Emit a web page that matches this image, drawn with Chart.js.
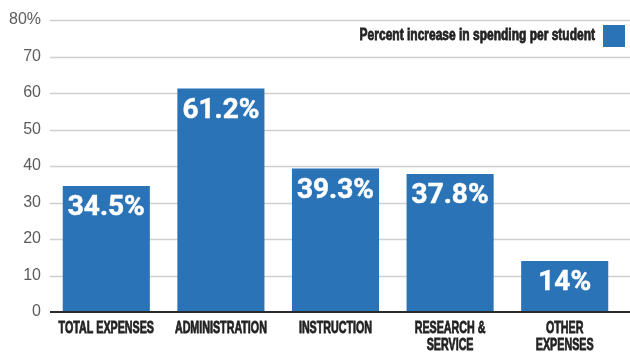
<!DOCTYPE html>
<html>
<head>
<meta charset="utf-8">
<script src="https://cdn.jsdelivr.net/npm/chart.js@4.4.1/dist/chart.umd.min.js"></script>
<style>
  html, body { margin: 0; padding: 0; background: #fff; }
  #wrap { width: 630px; height: 354px; }
</style>
</head>
<body>
<div id="wrap"><canvas id="spendChart" width="630" height="354"></canvas></div>
<script>
// categories, values and tick labels
const categories = [['TOTAL EXPENSES'], ['ADMINISTRATION'], ['INSTRUCTION'], ['RESEARCH &', 'SERVICE'], ['OTHER', 'EXPENSES']];
const increase = [34.5, 61.2, 39.3, 37.8, 14];
const valueLabels = ['34.5%', '61.2%', '39.3%', '37.8%', '14%'];
const yTicks = [0, 10, 20, 30, 40, 50, 60, 70, 80];
const seriesName = 'Percent increase in spending per student';

const barBlue = '#2a73b7';

// draw condensed, slightly heavier text
function squeezeText(ctx, text, x, y, sx) {
    ctx.save();
    ctx.translate(x, y);
    ctx.scale(sx, 1);
    ctx.strokeText(text, 0, 0);
    ctx.fillText(text, 0, 0);
    ctx.restore();
}

// grid lines + zero line drawn full width
const gridPlugin = {
    id: 'grid',
    beforeDatasetsDraw(chart) {
        const ctx = chart.ctx;
        const y = chart.scales.y;
        ctx.save();
        ctx.strokeStyle = '#cfcfcf';
        ctx.lineWidth = 1.5;
        yTicks.forEach(v => {
            if (v === 0) return;
            const py = Math.round(y.getPixelForValue(v)) + 0.5;
            ctx.beginPath();
            ctx.moveTo(50, py);
            ctx.lineTo(chart.width, py);
            ctx.stroke();
        });
        ctx.restore();
    },
    afterDatasetsDraw(chart) {
        const ctx = chart.ctx;
        const y = chart.scales.y;
        const x = chart.scales.x;
        ctx.save();
        // zero line
        const py0 = y.getPixelForValue(0);
        ctx.strokeStyle = '#2b2b2b';
        ctx.lineWidth = 2;
        ctx.beginPath();
        ctx.moveTo(50, py0);
        ctx.lineTo(chart.width, py0);
        ctx.stroke();

        // value labels inside bars
        const meta = chart.getDatasetMeta(0);
        ctx.fillStyle = '#ffffff';
        ctx.strokeStyle = '#ffffff';
        ctx.lineWidth = 0.5;
        ctx.font = 'bold 28px Roboto';
        ctx.textAlign = 'center';
        ctx.textBaseline = 'middle';
        meta.data.forEach((bar, i) => {
            squeezeText(ctx, valueLabels[i], bar.x, bar.y + 22, 1);
        });

        // condensed category labels
        ctx.fillStyle = '#222222';
        ctx.strokeStyle = '#222222';
        ctx.lineWidth = 0.8;
        ctx.font = 'bold 17px "Liberation Sans"';
        ctx.textBaseline = 'top';
        categories.forEach((lines, i) => {
            const px = x.getPixelForTick(i);
            lines.forEach((ln, j) => {
                squeezeText(ctx, ln, px, py0 + 8 + j * 17, 0.63);
            });
        });

        // legend (text then box)
        ctx.font = 'bold 16px "Liberation Sans"';
        ctx.textAlign = 'right';
        ctx.textBaseline = 'middle';
        squeezeText(ctx, chart.data.datasets[0].label, 595, 36, 0.75);
        ctx.fillStyle = barBlue;
        ctx.fillRect(603, 25, 22, 22);
        ctx.restore();
    }
};

new Chart(document.getElementById('spendChart'), {
    type: 'bar',
    data: {
        labels: categories,
        datasets: [{
            label: seriesName,
            data: increase,
            backgroundColor: barBlue,
            borderWidth: 0,
            barPercentage: 0.76,
            categoryPercentage: 1
        }]
    },
    options: {
        responsive: false,
        animation: false,
        layout: { padding: { top: 20, right: 8, bottom: 42, left: 0 } },
        plugins: {
            legend: { display: false },
            tooltip: { enabled: false }
        },
        scales: {
            x: { display: false },
            y: {
                min: 0,
                max: 80,
                afterFit(scale) { scale.width = 49; },
                afterBuildTicks(scale) { scale.ticks = yTicks.map(v => ({ value: v })); },
                grid: { display: false, drawTicks: false },
                border: { display: false },
                ticks: {
                    color: '#5c5c5c',
                    padding: 8,
                    font: { family: 'Liberation Sans', size: 16 },
                    callback: v => v === 80 ? '80%' : v
                }
            }
        }
    },
    plugins: [gridPlugin]
});
</script>
</body>
</html>
